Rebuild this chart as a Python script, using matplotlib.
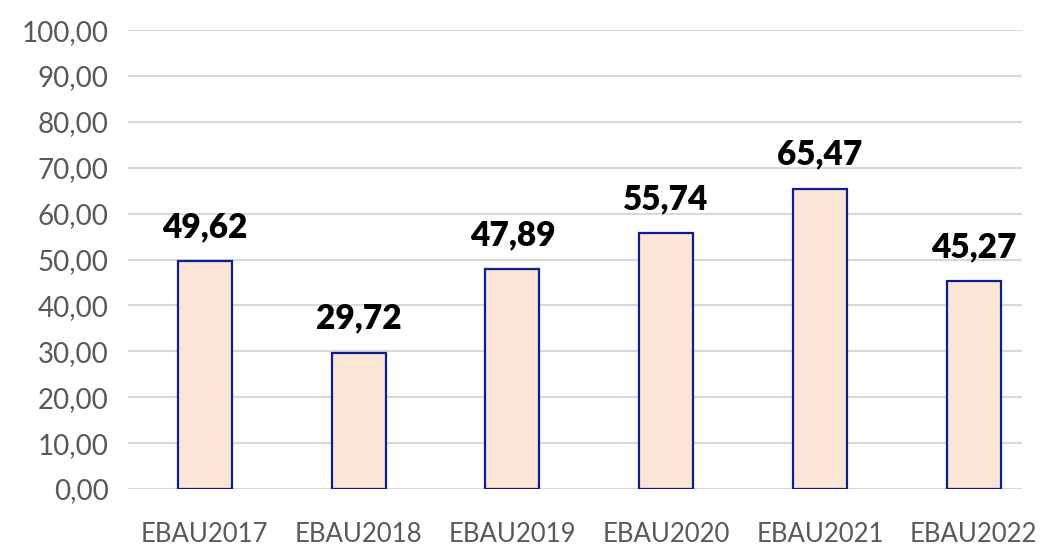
import matplotlib
matplotlib.use("Agg")
import matplotlib.pyplot as plt
from matplotlib.ticker import FuncFormatter, MultipleLocator

categories = ["EBAU2017", "EBAU2018", "EBAU2019", "EBAU2020", "EBAU2021", "EBAU2022"]
values = [49.62, 29.72, 47.89, 55.74, 65.47, 45.27]

plt.rcParams['font.family'] = ['Lato', 'DejaVu Sans']

fig = plt.figure(figsize=(10.4, 5.47), dpi=100)
ax = fig.add_axes([0.123, 0.106, 0.86, 0.839])

x = range(len(categories))
ax.bar(x, values, width=0.35, color='#FBE5D6', edgecolor='#0B1F8F', linewidth=1.6, zorder=3)

# value labels above the bars
for xi, v in zip(x, values):
    ax.text(xi, v + 4, f"{v:.2f}".replace('.', ','), ha='center', va='bottom',
            fontsize=24, fontweight='heavy', color='black')

ax.set_xlim(-0.5, 5.316)
ax.set_ylim(0, 100)
ax.yaxis.set_major_locator(MultipleLocator(10))
ax.yaxis.set_major_formatter(FuncFormatter(lambda y, _: f"{y:.2f}".replace('.', ',')))
ax.set_xticks(list(x))
ax.set_xticklabels(categories, fontsize=18.5)
ax.grid(axis='y', color='#D9D9D9', linewidth=1.5, zorder=0)
for s in ax.spines.values():
    s.set_visible(False)
ax.tick_params(axis='y', length=0, labelsize=20, colors='#595959', pad=14)
ax.tick_params(axis='x', length=0, colors='#595959', pad=24)

fig.savefig("out.png", dpi=100)
